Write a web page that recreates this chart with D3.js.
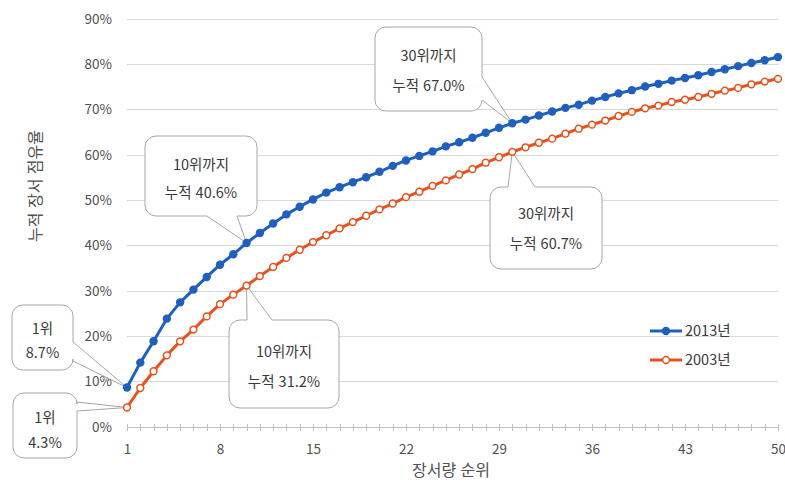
<!DOCTYPE html>
<html lang="ko">
<head>
<meta charset="utf-8">
<script src="https://cdn.jsdelivr.net/npm/d3@7/dist/d3.min.js"></script>
<style>
  html, body { margin: 0; padding: 0; background: #fff; }
  svg { display: block; }
  text { font-family: "Noto Sans CJK KR", "Noto Sans", sans-serif; }
</style>
</head>
<body>
<svg id="chart" width="785" height="484"></svg>
<script>
// Rank positions 1..50
const ranks = d3.range(1, 51);

// Cumulative holding share by rank, 2013
const share2013 = [
  0.087, 0.142, 0.189, 0.239, 0.275, 0.303, 0.331, 0.358, 0.381, 0.406,
  0.428, 0.449, 0.469, 0.486, 0.502, 0.517, 0.529, 0.540, 0.551, 0.563,
  0.576, 0.588, 0.598, 0.608, 0.619, 0.628, 0.638, 0.649, 0.660, 0.670,
  0.678, 0.687, 0.696, 0.704, 0.711, 0.720, 0.728, 0.736, 0.743, 0.751,
  0.757, 0.764, 0.770, 0.776, 0.783, 0.789, 0.796, 0.803, 0.809, 0.816
];

// Cumulative holding share by rank, 2003
const share2003 = [
  0.043, 0.086, 0.123, 0.158, 0.189, 0.215, 0.244, 0.271, 0.292, 0.312,
  0.333, 0.353, 0.373, 0.391, 0.408, 0.423, 0.438, 0.452, 0.466, 0.480,
  0.493, 0.507, 0.519, 0.532, 0.544, 0.557, 0.569, 0.583, 0.595, 0.607,
  0.617, 0.627, 0.636, 0.647, 0.658, 0.667, 0.676, 0.686, 0.695, 0.703,
  0.709, 0.717, 0.722, 0.728, 0.735, 0.742, 0.748, 0.756, 0.762, 0.768
];

const seriesNames = ["2013년", "2003년"];
const xTickValues = [1, 8, 15, 22, 29, 36, 43, 50];
const yTickValues = [0, 0.1, 0.2, 0.3, 0.4, 0.5, 0.6, 0.7, 0.8, 0.9];
const xTitle = "장서량 순위";
const yTitle = "누적 장서 점유율";

// Callout annotations: which series / rank they point at and their caption
const calloutSeries = [0, 1, 0, 1, 0, 1];
const calloutRanks  = [1, 1, 10, 10, 30, 30];
const calloutHeads  = ["1위", "1위", "10위까지", "10위까지", "30위까지", "30위까지"];
const calloutPrefix = ["", "", "누적 ", "누적 ", "누적 ", "누적 "];

// Box placement for each callout (layout only)
const calloutBoxes = [
  { x: 12,  y: 305, w: 61,  h: 65, side: "right",  a: 37, b: 56, gap: 24, off: 3 },
  { x: 13,  y: 393, w: 64,  h: 65, side: "right",  a: 9,  b: 18, gap: 25, off: 5 },
  { x: 145, y: 136, w: 112, h: 80, side: "bottom", a: 62, b: 92, gap: 28, off: 3 },
  { x: 229, y: 320, w: 110, h: 88, side: "top",    a: 18, b: 43, gap: 30, off: 3 },
  { x: 375, y: 27,  w: 107, h: 84, side: "right",  a: 50, b: 73, gap: 30, off: 2 },
  { x: 490, y: 187, w: 112, h: 82, side: "top",    a: 18, b: 45, gap: 30, off: 1 }
];

const colors = ["#1f5fbd", "#e8511c"];
const seriesValues = [share2013, share2003];

const svg = d3.select("#chart");
const x = d3.scaleLinear().domain([1, 50]).range([127, 778]);
const y = d3.scaleLinear().domain([0, 0.9]).range([427, 19]);

// Horizontal gridlines
svg.append("g")
  .selectAll("line")
  .data(yTickValues.filter(v => v > 0))
  .join("line")
  .attr("x1", x(1)).attr("x2", x(50))
  .attr("y1", d => y(d)).attr("y2", d => y(d))
  .attr("stroke", "#d9d9d9").attr("stroke-width", 1)
  .attr("shape-rendering", "crispEdges");

// Y axis labels
const yAxis = d3.axisLeft(y).tickValues(yTickValues).tickFormat(d3.format(".0%"))
  .tickSize(0).tickPadding(15);
const gy = svg.append("g").attr("transform", `translate(${x(1)},0)`).call(yAxis);
gy.select(".domain").remove();
gy.selectAll("text")
  .attr("fill", "#505050").style("font-size", "13.5px")
  .style("font-family", '"Noto Sans CJK KR", sans-serif');

// X axis: line, a tick at every rank, labels on selected ranks
const xAxis = d3.axisBottom(x).tickValues(ranks)
  .tickFormat(d => xTickValues.includes(d) ? d : "")
  .tickSizeInner(4).tickSizeOuter(0).tickPadding(13);
const gx = svg.append("g").attr("transform", `translate(0,${y(0)})`).call(xAxis);
gx.select(".domain").attr("stroke", "#bfbfbf").attr("shape-rendering", "crispEdges");
gx.selectAll(".tick line").attr("stroke", "#bfbfbf").attr("y1", -3)
  .attr("shape-rendering", "crispEdges");
gx.selectAll("text")
  .attr("fill", "#505050").style("font-size", "13.5px")
  .style("font-family", '"Noto Sans CJK KR", sans-serif');

// Axis titles
svg.append("text")
  .attr("x", 451).attr("y", 476)
  .attr("text-anchor", "middle")
  .attr("fill", "#505050").style("font-size", "16px")
  .text(xTitle);
svg.append("text")
  .attr("transform", "translate(41,186) rotate(-90)")
  .attr("text-anchor", "middle")
  .attr("fill", "#505050").style("font-size", "16px")
  .text(yTitle);

// Rounded rectangle with a pointer wedge on one of its edges
function calloutPath(b, tx, ty) {
  const r = 11, { x: bx, y: by, w, h, side, a, b: bb } = b;
  const p = d3.path();
  p.moveTo(bx + r, by);
  if (side === "top") { p.lineTo(bx + a, by); p.lineTo(tx, ty); p.lineTo(bx + bb, by); }
  p.lineTo(bx + w - r, by);
  p.arcTo(bx + w, by, bx + w, by + r, r);
  if (side === "right") { p.lineTo(bx + w, by + a); p.lineTo(tx, ty); p.lineTo(bx + w, by + bb); }
  p.lineTo(bx + w, by + h - r);
  p.arcTo(bx + w, by + h, bx + w - r, by + h, r);
  if (side === "bottom") { p.lineTo(bx + bb, by + h); p.lineTo(tx, ty); p.lineTo(bx + a, by + h); }
  p.lineTo(bx + r, by + h);
  p.arcTo(bx, by + h, bx, by + h - r, r);
  p.lineTo(bx, by + r);
  p.arcTo(bx, by, bx + r, by, r);
  p.closePath();
  return p.toString();
}

const fmtPct = d3.format(".1%");
const callouts = calloutRanks.map((rk, i) => {
  const s = calloutSeries[i];
  const v = seriesValues[s][rk - 1];
  return {
    box: calloutBoxes[i],
    tx: x(rk), ty: y(v),
    lines: [calloutHeads[i], calloutPrefix[i] + fmtPct(v)]
  };
});

const cg = svg.append("g").selectAll("g").data(callouts).join("g");
cg.append("path")
  .attr("d", d => calloutPath(d.box, d.tx, d.ty))
  .attr("fill", "#fff").attr("stroke", "#a6a6a6").attr("stroke-width", 1);
cg.each(function (d) {
  const g = d3.select(this);
  const cx = d.box.x + d.box.w / 2;
  const cy = d.box.y + d.box.h / 2 + d.box.off;
  d.lines.forEach((t, k) => {
    g.append("text")
      .attr("x", cx)
      .attr("y", cy + (k - 0.5) * d.box.gap)
      .attr("dy", "0.36em")
      .attr("text-anchor", "middle")
      .attr("fill", "#3a3a3a")
      .style("font-size", "14.5px")
      .text(t);
  });
});

// Series lines and markers
const line = d3.line().x((d, i) => x(ranks[i])).y(d => y(d));
seriesValues.forEach((vals, s) => {
  svg.append("path")
    .datum(vals)
    .attr("d", line)
    .attr("fill", "none")
    .attr("stroke", colors[s])
    .attr("stroke-width", 3)
    .attr("stroke-linejoin", "round");
});
// 2013: filled markers
svg.append("g").selectAll("circle").data(share2013).join("circle")
  .attr("cx", (d, i) => x(ranks[i])).attr("cy", d => y(d))
  .attr("r", 4.2).attr("fill", colors[0]);
// 2003: hollow markers
svg.append("g").selectAll("circle").data(share2003).join("circle")
  .attr("cx", (d, i) => x(ranks[i])).attr("cy", d => y(d))
  .attr("r", 3.4).attr("fill", "#fff")
  .attr("stroke", colors[1]).attr("stroke-width", 1.5);

// Legend
const legend = svg.append("g").selectAll("g").data(seriesNames).join("g")
  .attr("transform", (d, i) => `translate(650,${331 + i * 29})`);
legend.append("line")
  .attr("x1", 0).attr("x2", 32).attr("y1", 0).attr("y2", 0)
  .attr("stroke", (d, i) => colors[i]).attr("stroke-width", 3);
legend.append("circle")
  .attr("cx", 16).attr("cy", 0)
  .attr("r", (d, i) => i === 0 ? 4.2 : 3.4)
  .attr("fill", (d, i) => i === 0 ? colors[0] : "#fff")
  .attr("stroke", (d, i) => i === 0 ? "none" : colors[1])
  .attr("stroke-width", 1.5);
legend.append("text")
  .attr("x", 35).attr("y", 0).attr("dy", "0.36em")
  .attr("fill", "#3a3a3a").style("font-size", "14.5px")
  .text(d => d);
</script>
</body>
</html>
